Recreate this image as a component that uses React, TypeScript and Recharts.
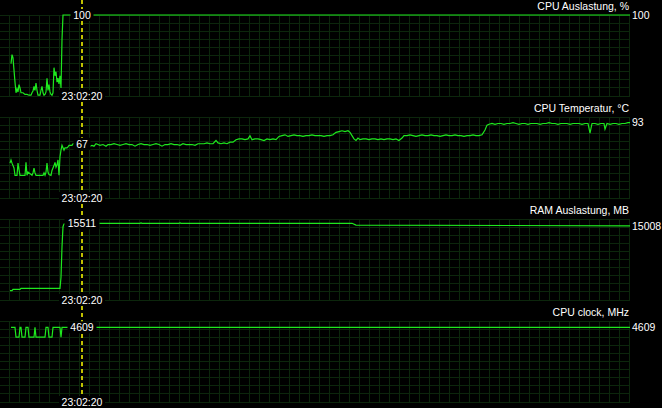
import { LineChart, Line, XAxis, YAxis, CartesianGrid, ReferenceDot } from "recharts";

const PANEL_W = 662;
const PANEL_H = 102;
const AXIS_W = 32;
const MARGIN = { top: 15, right: 0, bottom: 6, left: 0 };
const FONT = "'Liberation Sans', Arial, sans-serif";
const FONT_SIZE = 10.5;

const LINE_COLOR = "#1ee81e";
const GRID_COLOR = "#0c260c";
const MARK_COLOR = "#f0f000";

// timeline in seconds, marker at the time stamp shown under each panel
const TIME_RANGE: [number, number] = [0, 630];
const MARK_T = 82;
const MARK_LABEL = "23:02:20";

type Pt = [number, number];

const cpuLoad: Pt[] = [
  [11, 40], [12, 51], [13, 47], [14, 32], [15, 17], [16, 4], [17, 9], [18, 5], [19, 14], [20, 10],
  [21, 4], [23, 4], [25, 2], [27, 2], [29, 1], [31, 1], [32, 4], [33, 6], [34, 12], [35, 7],
  [36, 16], [37, 7], [38, 1], [40, 1], [41, 7], [42, 12], [43, 4], [44, 1], [45, 2], [46, 5],
  [47, 22], [48, 7], [49, 14], [50, 5], [51, 2], [52, 1], [53, 4], [54, 35], [55, 25], [56, 30],
  [57, 17], [58, 22], [59, 15], [60, 25], [61, 10], [62, 70], [63, 100], [82, 100], [630, 100],
];

const cpuTemp: Pt[] = [
  [10, 43], [11, 47], [12, 43], [13, 40], [14, 37], [15, 28], [17, 28], [18, 43], [19, 35], [20, 28],
  [25, 28], [26, 44], [27, 28], [28, 32], [32, 28], [33, 31], [34, 37], [35, 31], [36, 28], [43, 28],
  [44, 31], [45, 28], [46, 32], [47, 43], [48, 32], [49, 29], [51, 28], [52, 34], [53, 37], [54, 40],
  [55, 44], [56, 38], [57, 41], [58, 47], [59, 28], [60, 51], [61, 59], [62, 65], [63, 62], [64, 59],
  [65, 62], [67, 62], [68, 63], [69, 65], [72, 65], [73, 67], [82, 67], [88, 62], [90, 64], [92, 65],
  [94, 64], [96, 67], [98, 66], [100, 65], [103, 66], [106, 64], [108, 66], [111, 66], [114, 67], [117, 66],
  [120, 65], [123, 66], [126, 67], [129, 66], [132, 66], [135, 64], [138, 66], [141, 67], [144, 66], [147, 66],
  [150, 65], [153, 66], [156, 67], [159, 66], [162, 64], [165, 66], [168, 66], [171, 67], [174, 66], [177, 66],
  [180, 65], [183, 67], [186, 66], [189, 66], [192, 66], [195, 65], [198, 67], [201, 67], [204, 67], [207, 68],
  [210, 67], [213, 67], [216, 71], [218, 68], [221, 67], [224, 68], [227, 67], [230, 69], [233, 69], [236, 72],
  [239, 73], [242, 73], [245, 72], [248, 73], [250, 77], [252, 72], [255, 73], [258, 73], [261, 72], [264, 71],
  [267, 73], [270, 72], [273, 73], [276, 72], [279, 76], [282, 77], [285, 78], [288, 76], [291, 77], [294, 78],
  [297, 77], [300, 77], [303, 76], [306, 77], [309, 77], [312, 78], [315, 77], [318, 77], [321, 77], [324, 76],
  [327, 77], [330, 77], [333, 78], [336, 81], [339, 82], [342, 83], [345, 82], [348, 83], [350, 81], [352, 77],
  [354, 73], [356, 71], [358, 74], [360, 72], [363, 73], [366, 73], [369, 72], [372, 73], [375, 73], [378, 72],
  [381, 73], [384, 72], [387, 73], [390, 73], [393, 72], [396, 73], [399, 71], [402, 74], [404, 77], [407, 77],
  [410, 78], [413, 77], [416, 76], [419, 77], [422, 78], [425, 77], [428, 77], [431, 78], [434, 77], [437, 77],
  [440, 76], [443, 77], [446, 78], [449, 77], [452, 77], [455, 78], [458, 77], [461, 77], [464, 76], [467, 77],
  [470, 77], [473, 78], [476, 77], [479, 77], [482, 78], [485, 84], [487, 90], [489, 91], [492, 92], [495, 91],
  [498, 92], [501, 92], [504, 91], [507, 92], [510, 92], [513, 93], [516, 92], [519, 91], [522, 92], [525, 92],
  [528, 91], [531, 92], [534, 92], [537, 92], [540, 91], [543, 92], [546, 92], [549, 93], [552, 92], [555, 92],
  [558, 91], [561, 92], [564, 92], [567, 92], [570, 91], [573, 92], [576, 92], [579, 92], [582, 91], [585, 92],
  [588, 92], [590, 80], [592, 92], [595, 92], [598, 91], [601, 92], [604, 92], [605, 85], [607, 92], [610, 91],
  [613, 92], [616, 92], [619, 91], [622, 92], [625, 92], [628, 93], [630, 93],
];

const ramUsage: Pt[] = [
  [10, 1880], [12, 1880], [13, 2160], [20, 2160], [21, 2370], [60, 2370], [61, 4590], [62, 10780],
  [63, 14830], [64, 15370], [82, 15511], [99, 15511], [140, 15511], [141, 15600], [142, 15511],
  [179, 15511], [180, 15600], [181, 15511], [352, 15511], [356, 15150], [630, 15008],
];

const cpuClock: Pt[] = [
  [11, 4609], [15, 4609], [16, 4000], [19, 4000], [20, 4609], [21, 4609], [22, 4000], [25, 4000],
  [26, 4609], [28, 4609], [29, 4000], [34, 4000], [35, 4609], [36, 4000], [45, 4000], [46, 4609],
  [48, 4609], [49, 4000], [52, 4000], [53, 4609], [60, 4609], [61, 4000], [62, 4609], [63, 4609],
  [82, 4609], [630, 4609],
];

const titles = ["CPU Auslastung, %", "CPU Temperatur, °C", "RAM Auslastung, MB", "CPU clock, MHz"];
const maxima = [100, 100, 16384, 5000];
const seriesList = [cpuLoad, cpuTemp, ramUsage, cpuClock];

// grid: 10 rows per panel, columns every 10px counted from the right edge
const hLines = ({ offset }: any) =>
  Array.from({ length: 11 }, (_, k) => Math.floor(offset.top + (k * offset.height) / 10) + 0.5);
const vLines = ({ offset }: any) => {
  const xs: number[] = [];
  for (let x = offset.left + offset.width - 0.5; x > offset.left; x -= 10) xs.push(x);
  return xs;
};

const gridLine = { stroke: GRID_COLOR, strokeWidth: 1, shapeRendering: "crispEdges" };

function TitleText({ viewBox, value }: any) {
  return (
    <text
      x={viewBox.x - 1}
      y={viewBox.y - 9}
      textAnchor="end"
      dominantBaseline="central"
      fill="#fff"
      fontSize={FONT_SIZE}
      fontFamily={FONT}
    >
      {value}
    </text>
  );
}

function Marker({ cx, cy, value }: { cx: number; cy: number; value: number }) {
  const label = String(value);
  const w = label.length * 6 + 5;
  const bottom = PANEL_H - MARGIN.bottom;
  const tw = 46;
  return (
    <g>
      <line x1={cx} x2={cx} y1={0} y2={PANEL_H} stroke={MARK_COLOR} strokeWidth={1.6} strokeDasharray="4 3" />
      <rect x={cx - w / 2} y={cy - 6} width={w} height={12} fill="#000" />
      <text x={cx} y={cy} textAnchor="middle" dominantBaseline="central" fill="#fff" fontSize={FONT_SIZE} fontFamily={FONT}>
        {label}
      </text>
      <rect x={cx - tw / 2} y={bottom - 6} width={tw} height={12} fill="#000" />
      <text x={cx} y={bottom} textAnchor="middle" dominantBaseline="central" fill="#fff" fontSize={FONT_SIZE} fontFamily={FONT}>
        {MARK_LABEL}
      </text>
    </g>
  );
}

function Panel({ title, series, max }: { title: string; series: Pt[]; max: number }) {
  const data = series.map(([t, v]) => ({ t, v }));
  const last = series[series.length - 1][1];
  const markValue = series.find(([t]) => t === MARK_T)?.[1] ?? last;
  return (
    <LineChart width={PANEL_W} height={PANEL_H} data={data} margin={MARGIN}>
      <CartesianGrid
        stroke={GRID_COLOR}
        horizontal={gridLine}
        vertical={gridLine}
        horizontalCoordinatesGenerator={hLines}
        verticalCoordinatesGenerator={vLines}
      />
      <XAxis dataKey="t" type="number" domain={TIME_RANGE} hide />
      <YAxis
        orientation="right"
        domain={[0, max]}
        ticks={[last]}
        width={AXIS_W}
        axisLine={false}
        tickLine={false}
        tickSize={0}
        tickMargin={2}
        tick={{ fill: "#fff", fontSize: FONT_SIZE, fontFamily: FONT, textAnchor: "start" }}
        label={{ value: title, content: TitleText }}
      />
      <Line
        dataKey="v"
        type="linear"
        stroke={LINE_COLOR}
        strokeWidth={1.2}
        dot={false}
        isAnimationActive={false}
      />
      <ReferenceDot
        x={MARK_T}
        y={markValue}
        r={2}
        shape={(p: any) => <Marker cx={p.cx} cy={p.cy} value={markValue} />}
      />
    </LineChart>
  );
}

export default function App() {
  return (
    <div style={{ position: "absolute", left: 0, top: 0, width: PANEL_W, height: PANEL_H * 4, background: "#000" }}>
      {titles.map((title, i) => (
        <div key={title} style={{ position: "absolute", left: 0, top: i * PANEL_H }}>
          <Panel title={title} series={seriesList[i]} max={maxima[i]} />
        </div>
      ))}
    </div>
  );
}
